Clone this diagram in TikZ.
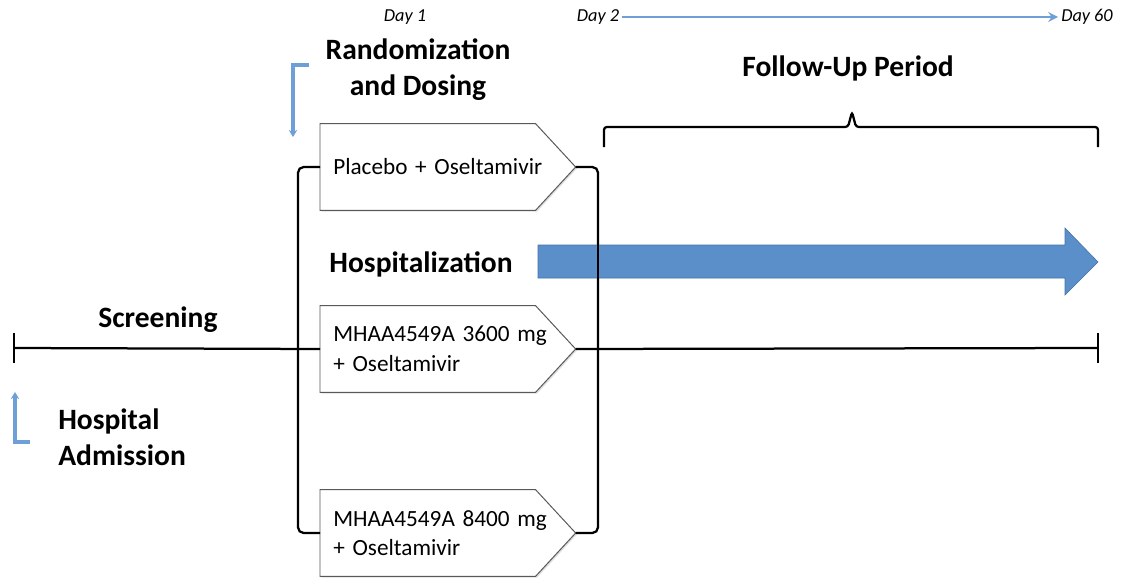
\documentclass[tikz,border=0pt]{standalone}
\usepackage{fontspec}
\setmainfont{Carlito}
\usetikzlibrary{arrows.meta,shadows,backgrounds}
\definecolor{tlblue}{RGB}{91,143,201}
\definecolor{tlblueedge}{RGB}{66,113,170}
\definecolor{tlbluethin}{RGB}{110,160,215}

\begin{document}
\begin{tikzpicture}[x=0.025cm,y=-0.025cm]
  \tikzset{
    arm/.style={rectangle, minimum width=6.375cm, minimum height=2.15cm, text width=5.725cm, align=left,
      inner xsep=0.325cm, font=\fontsize{16.5}{21}\selectfont},
    armedge/.style={draw=black!65, fill=white, line width=0.7pt,
      drop shadow={opacity=0.25, shadow xshift=1pt, shadow yshift=-1pt}},
    lbl/.style={font=\fontsize{21}{25.5}\selectfont\bfseries, inner sep=0pt},
    daylbl/.style={font=\fontsize{13}{15}\selectfont\itshape, inner sep=2pt},
    brk/.style={black, line width=1.6pt, rounded corners=4pt},
    tick/.style={black, line width=1.6pt},
    blu/.style={tlbluethin, line width=2.4pt, -{Stealth[length=5pt,width=6pt]}}
  }
  \useasboundingbox (0,0) rectangle (1126,579);

  % - Day scale ---
  \node[daylbl] (d1) at (405,17) {Day 1};
  \node[daylbl] (d2) at (598,17) {Day 2};
  \node[daylbl] (d60) at (1087,17) {Day 60};
  \draw[tlbluethin, line width=1.6pt, -{Stealth[length=7pt,width=7pt]}] (d2.east) -- (d60.west);

  % - Headings ---
  \node[lbl, align=center] (rand) at (418,70) {Randomization\\and Dosing};
  \node[lbl] (fup) at (848,68) {Follow-Up Period};
  \node[lbl] (hosp) at (421,264) {Hospitalization};
  \node[lbl] (scr) at (158,320) {Screening};
  \node[lbl, align=left, anchor=west] (adm) at (58,437) {Hospital\\Admission};

  % - Treatment arms ---
  \node[arm, anchor=west] (arm1) at (320,167) {Placebo + Oseltamivir};
  \node[arm, anchor=west] (arm2) at (320,349) {MHAA4549A 3600 mg\\+ Oseltamivir};
  \node[arm, anchor=west] (arm3) at (320,533) {MHAA4549A 8400 mg\\+ Oseltamivir};
  \begin{scope}[on background layer]
    \foreach \a in {arm1,arm2,arm3}
      \draw[armedge] (\a.north west) -- ([xshift=-1cm]\a.north east) -- (\a.east)
        -- ([xshift=-1cm]\a.south east) -- (\a.south west) -- cycle;
  \end{scope}

  % - Timeline ---
  \coordinate (t0) at (14,348);
  \coordinate (t1) at (1098,348);
  \coordinate (lb) at (298,348);
  \coordinate (rb) at (598,348);
  \draw[tick] (t0) -- (arm2.west);
  \draw[tick] (arm2.east) -- (t1);
  \draw[tick] (14,333) -- (14,363);
  \draw[tick] (1098,333) -- (1098,363);

  % - Brackets ---
  \draw[brk] (arm1.west) -| (lb) |- (arm3.west);
  \draw[brk] (arm1.east) -| (rb) |- (arm3.east);
  \draw[brk, rounded corners=2pt] (604,147) -- (604,127) -- (848,127) -- (852,112) -- (856,127) -- (1098,127) -- (1098,147);

  % - Hospitalization arrow ---
  \fill[tlblue, draw=tlblueedge, line width=0.4pt] (538,245) -- (1065,245) -- (1065,228) -- (1098,262)
    -- (1065,295) -- (1065,278) -- (538,278) -- cycle;
  \draw[black, line width=1.6pt] (rb) -- (598,228);

  % - Event markers ---
  \draw[blu] (309,65) -- (293,65) -- (293,137);
  \draw[blu] (30,442) -- (15,442) -- (15,392);

\end{tikzpicture}
\end{document}
